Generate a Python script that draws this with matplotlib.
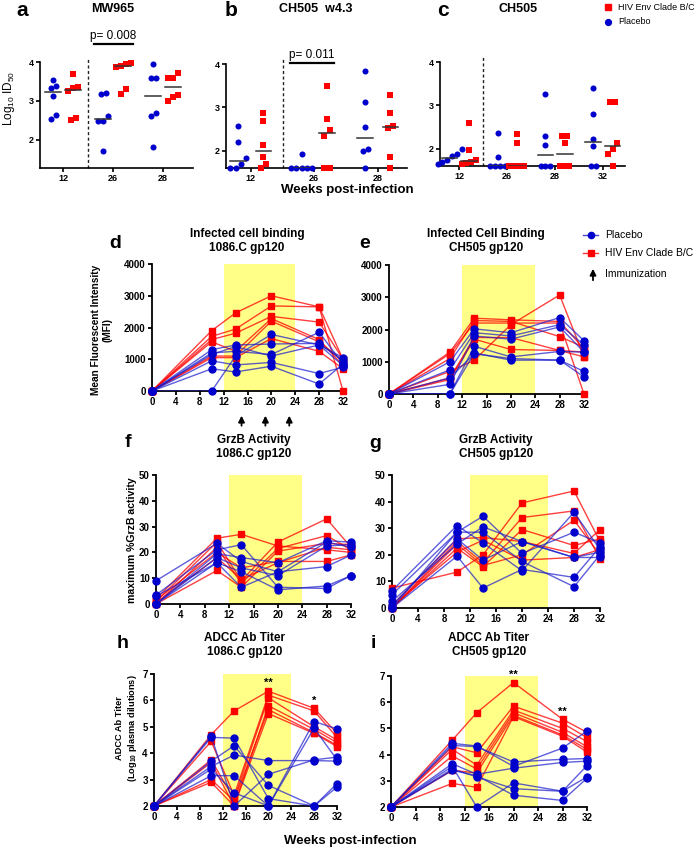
import numpy as np
import matplotlib
matplotlib.use('Agg')
import matplotlib.pyplot as plt
from matplotlib.lines import Line2D
from matplotlib.patches import FancyArrowPatch

plt.rcParams['font.family'] = ['Liberation Sans', 'DejaVu Sans']
plt.rcParams['mathtext.fontset'] = 'custom'
plt.rcParams['mathtext.rm'] = 'Liberation Sans'
plt.rcParams['mathtext.it'] = 'Liberation Sans:italic'
plt.rcParams['mathtext.bf'] = 'Liberation Sans:bold'

RED = '#FF0000'
BLUE = '#0000CC'
YEL = '#FFFF88'

# ---------------- top row: neutralization (Log10 ID50) ----------------
a_weeks = ['12', '26', '28']
a_placebo = [[3.38, 3.55, 3.32, 3.12, 2.63, 2.53],
             [3.17, 3.21, 2.61, 2.49, 2.49, 1.71],
             [3.94, 3.58, 3.58, 2.68, 2.62, 1.82]]
a_env = [[3.69, 3.36, 3.32, 3.26, 2.57, 2.50],
         [3.94, 3.91, 3.97, 3.87, 3.30, 3.19],
         [3.72, 3.60, 3.58, 3.16, 3.10, 2.99]]

b_weeks = ['12', '26', '28']
b_placebo = [[2.58, 2.20, 1.82, 1.69, 1.60, 1.60],
             [1.92, 1.60, 1.60, 1.60, 1.60, 1.60],
             [3.83, 3.12, 2.54, 2.04, 2.00, 1.60]]
b_env = [[2.87, 2.68, 2.12, 1.85, 1.70, 1.60],
         [3.49, 2.74, 2.48, 2.35, 1.60, 1.60],
         [3.29, 2.88, 2.58, 2.52, 1.85, 1.60]]

c_weeks = ['12', '26', '28', '32']
c_placebo = [[2.00, 1.87, 1.83, 1.75, 1.70, 1.65],
             [2.37, 1.80, 1.60, 1.60, 1.60, 1.60],
             [3.27, 2.30, 2.09, 1.60, 1.60, 1.60],
             [3.39, 2.81, 2.23, 2.07, 1.60, 1.60]]
c_env = [[2.60, 1.98, 1.73, 1.69, 1.67, 1.65],
         [2.33, 2.13, 1.60, 1.60, 1.60, 1.60],
         [2.30, 2.30, 2.14, 1.60, 1.60, 1.60],
         [3.07, 3.08, 2.12, 2.00, 1.88, 1.60]]

a_pvalue = 'p= 0.008'
b_pvalue = 'p= 0.011'

# ---------------- line panels ----------------
weeks = [0, 10, 14, 20, 28, 32]
immunization_weeks = [15, 19, 23]

d_env = [[0, 1900, 2460, 3000, 2650, 1000],
         [0, 1720, 1950, 2680, 2650, 0],
         [0, 1620, 1820, 2350, 2170, 1000],
         [0, 1550, 1250, 2280, 1620, 800],
         [0, 1100, 1100, 2200, 1550, 950],
         [0, 1050, 1050, 1650, 1250, 700]]
d_placebo = [[0, 0, 1100, 1780, 1450, 1050],
             [0, 1300, 1450, 1480, 1500, 950],
             [0, 1200, 1250, 1150, 1850, 850],
             [0, 1150, 1400, 1100, 1450, 800],
             [0, 950, 820, 900, 550, 750],
             [0, 700, 600, 780, 220, 850]]

e_env = [[0, 700, 1050, 2150, 3070, 1150],
         [0, 1300, 2350, 2300, 2250, 1400],
         [0, 1100, 2280, 2250, 1780, 1450],
         [0, 1250, 2200, 2200, 2200, 0],
         [0, 500, 1750, 1750, 1350, 1300],
         [0, 450, 1700, 1380, 1350, 1150]]
e_placebo = [[0, 1000, 2020, 1900, 2370, 1650],
             [0, 750, 1900, 1800, 2150, 1520],
             [0, 300, 1800, 1700, 2080, 1300],
             [0, 0, 1480, 1150, 1320, 1300],
             [0, 0, 1270, 1050, 1050, 700],
             [0, 500, 1250, 1100, 1050, 530]]

f_env = [[2, 25.5, 27, 22.5, 21, 20],
         [1, 24, 9, 24, 33, 22],
         [0, 22, 8, 21.5, 26.5, 21],
         [0, 13, 6.5, 20.5, 23.5, 23],
         [1.5, 20, 14, 16.5, 16.5, 19],
         [0.5, 18, 9.5, 16, 22, 21]]
f_placebo = [[9, 23.5, 16.5, 12.5, 14.5, 19],
             [3.5, 21, 23, 6.5, 6, 11],
             [0, 19.5, 18, 16, 24.5, 24],
             [0, 18, 14, 11, 22.5, 23],
             [3, 16, 12.5, 5.5, 7, 11],
             [0, 16, 6.5, 12.5, 24, 22]]

g_env = [[7.5, 13.5, 20, 39.5, 44, 25],
         [1, 26, 26.5, 25, 20.5, 29.5],
         [0, 25, 17, 34, 36.5, 18.5],
         [0, 22.5, 15.5, 29.5, 23.5, 26],
         [0.5, 21, 25.5, 18, 19, 22],
         [0, 24, 16, 20, 33, 20]]
g_placebo = [[6.5, 31, 24.5, 14, 36, 22],
             [5, 28.5, 34.5, 20.5, 28.5, 24.5],
             [2.5, 24, 30.5, 25, 19, 21],
             [0, 19.5, 7.5, 14.5, 11.5, 23],
             [0, 28.5, 28.5, 17.5, 8, 20],
             [1, 26, 18, 25, 19, 19]]

h_env = [[2, 4.7, 5.6, 6.35, 5.7, 4.75],
         [2, 4.45, 2.4, 6.2, 5.6, 4.6],
         [2, 3.75, 2.25, 6.1, 5.0, 4.5],
         [2, 3.65, 2.0, 5.8, 4.9, 4.4],
         [2, 3.0, 2.2, 5.65, 4.78, 4.3],
         [2, 2.9, 2.0, 5.5, 4.75, 4.25]]
h_placebo = [[2, 4.65, 2.0, 3.2, 3.75, 3.85],
             [2, 4.6, 4.57, 2.28, 2.0, 2.85],
             [2, 3.7, 4.28, 2.78, 2.0, 2.72],
             [2, 3.5, 3.93, 3.72, 3.72, 3.7],
             [2, 3.15, 3.15, 2.0, 5.2, 4.92],
             [2, 3.4, 2.5, 2.0, 4.95, 3.75]]
h_sig = {20: '**', 28: '*'}

i_env = [[2, 4.55, 5.6, 6.75, 5.35, 4.85],
         [2, 4.3, 4.07, 5.85, 5.2, 4.65],
         [2, 4.2, 3.6, 5.7, 5.0, 4.5],
         [2, 3.95, 3.45, 5.6, 4.85, 4.3],
         [2, 3.4, 3.3, 5.5, 4.75, 4.2],
         [2, 2.9, 2.75, 5.45, 4.7, 4.1]]
i_placebo = [[2, 4.43, 4.33, 3.55, 4.25, 4.9],
             [2, 4.35, 4.3, 3.72, 3.82, 3.85],
             [2, 3.65, 3.25, 3.48, 3.7, 3.75],
             [2, 3.55, 2.0, 2.92, 2.6, 3.15],
             [2, 3.45, 3.15, 2.7, 2.6, 3.58],
             [2, 3.4, 3.2, 2.45, 2.25, 3.1]]
i_sig = {20: '**', 28: '**'}

# ---------------- figure ----------------
W, H = 697, 849
fig = plt.figure(figsize=(W / 100, H / 100), dpi=100)
fig.patch.set_facecolor('white')


def ax_at(l, t, r, b):
    return fig.add_axes([l / W, 1 - b / H, (r - l) / W, (b - t) / H])


def ftext(x, y, s, **kw):
    fig.text(x / W, 1 - y / H, s, **kw)


def style(ax, lw=1.2, labelsize=7):
    for s in ['top', 'right']:
        ax.spines[s].set_visible(False)
    for s in ['left', 'bottom']:
        ax.spines[s].set_linewidth(lw)
    ax.tick_params(direction='out', length=3, width=lw, labelsize=labelsize, pad=1.5)
    for lab in ax.get_xticklabels() + ax.get_yticklabels():
        lab.set_fontweight('bold')
    ax.set_facecolor('none')


def swarm(vals, step, tol):
    v = np.asarray(vals, float)
    order = np.argsort(v, kind='stable')
    offs = np.zeros(len(v))
    groups, cur = [], [order[0]]
    for idx in order[1:]:
        if v[idx] - v[cur[-1]] < tol:
            cur.append(idx)
        else:
            groups.append(cur)
            cur = [idx]
    groups.append(cur)
    for g in groups:
        k = len(g)
        for j, idx in enumerate(g):
            offs[idx] = (j - (k - 1) / 2) * step
    return offs


def dot_panel(ax, cats, plac, env, ylim, xlim, step, tol, hw):
    pos = np.arange(len(cats))
    for i in pos:
        for vals, dx, color, marker in [(plac[i], -0.2, BLUE, 'o'), (env[i], 0.2, RED, 's')]:
            offs = swarm(vals, step, tol)
            ax.scatter(i + dx + offs, vals, s=19, c=color, marker=marker,
                       clip_on=False, zorder=3, linewidths=0)
            m = np.median(vals)
            ax.plot([i + dx - hw, i + dx + hw], [m, m], color='#333333', lw=1.1, zorder=4)
    ax.axvline(0.5, ymin=0, ymax=1.05, color='#222222', ls=(0, (2.2, 1.8)), lw=1.0, clip_on=False)
    ax.set_xlim(*xlim)
    ax.set_ylim(*ylim)
    ax.set_xticks(pos)
    ax.set_xticklabels(cats)
    ax.set_yticks([2, 3, 4])
    style(ax, lw=1.2, labelsize=6.5)


ax_a = ax_at(40, 62, 193, 168)
dot_panel(ax_a, a_weeks, a_placebo, a_env, (1.28, 4.0), (-0.46, 2.6), 0.1, 0.15, 0.16)
ax_b = ax_at(226, 64, 407, 168)
dot_panel(ax_b, b_weeks, b_placebo, b_env, (1.6, 4.0), (-0.39, 2.46), 0.08, 0.14, 0.125)
ax_c = ax_at(440, 62, 625, 166)
dot_panel(ax_c, c_weeks, c_placebo, c_env, (1.6, 4.0), (-0.4, 3.46), 0.1, 0.14, 0.165)

# p-value bars
ax_a.plot([0.62, 1.4], [4.46, 4.46], color='k', lw=1.6, clip_on=False)
ax_a.text(1.01, 4.52, a_pvalue, ha='center', va='bottom', fontsize=8.5, clip_on=False)
ax_b.plot([0.61, 1.31], [4.02, 4.02], color='k', lw=1.6, clip_on=False)
ax_b.text(0.96, 4.08, b_pvalue, ha='center', va='bottom', fontsize=8.5, clip_on=False)

# top row titles / letters / labels
ftext(113, 9, 'MW965', ha='center', va='center', fontsize=9, fontweight='bold')
ftext(316, 9, 'CH505  w4.3', ha='center', va='center', fontsize=9, fontweight='bold')
ftext(518, 9, 'CH505', ha='center', va='center', fontsize=9, fontweight='bold')
ftext(22, 10, 'a', ha='center', va='center', fontsize=15, fontweight='bold')
ftext(231, 10, 'b', ha='center', va='center', fontsize=15, fontweight='bold')
ftext(443, 10, 'c', ha='center', va='center', fontsize=15, fontweight='bold')
ftext(9, 98, r'Log$_{10}$ ID$_{50}$', ha='center', va='center', rotation=90, fontsize=8.5)
ftext(347, 190, 'Weeks post-infection', ha='center', va='center', fontsize=9.5, fontweight='bold')

# top legend (markers only)
fig.add_artist(Line2D([608 / W], [1 - 7 / H], marker='s', color=RED, ms=4.2, ls='none'))
ftext(618, 7, 'HIV Env Clade B/C', ha='left', va='center', fontsize=6.5)
fig.add_artist(Line2D([608 / W], [1 - 22 / H], marker='o', color=BLUE, ms=4.2, ls='none'))
ftext(618, 22, 'Placebo', ha='left', va='center', fontsize=6.5)


def line_panel(ax, env, plac, ylim, yticks):
    ax.axvspan(12, 24, color=YEL, zorder=0, lw=0)
    for s in env:
        ax.plot(weeks, s, color=RED, lw=1.0, alpha=0.75, zorder=2)
    for s in env:
        ax.plot(weeks, s, ls='none', marker='s', ms=4.6, color=RED, mec=RED, clip_on=False, zorder=3)
    for s in plac:
        ax.plot(weeks, s, color='#1a1acc', lw=1.0, alpha=0.7, zorder=4)
    for s in plac:
        ax.plot(weeks, s, ls='none', marker='o', ms=5.0, color=BLUE, mec=BLUE, clip_on=False, zorder=5)
    ax.set_xlim(0, 32)
    ax.set_ylim(*ylim)
    ax.set_xticks(np.arange(0, 33, 4))
    ax.set_yticks(yticks)
    style(ax, lw=1.3, labelsize=7)


ax_d = ax_at(152, 264, 343, 391)
line_panel(ax_d, d_env, d_placebo, (0, 4000), [0, 1000, 2000, 3000, 4000])
ax_e = ax_at(389, 265, 584, 394)
line_panel(ax_e, e_env, e_placebo, (0, 4000), [0, 1000, 2000, 3000, 4000])
ax_f = ax_at(156, 475, 351, 604)
line_panel(ax_f, f_env, f_placebo, (0, 50), [0, 10, 20, 30, 40, 50])
ax_g = ax_at(392, 475, 600, 608)
line_panel(ax_g, g_env, g_placebo, (0, 50), [0, 10, 20, 30, 40, 50])
ax_h = ax_at(154, 674, 337, 806)
line_panel(ax_h, h_env, h_placebo, (2, 7), [2, 3, 4, 5, 6, 7])
ax_i = ax_at(391, 676, 587, 807)
line_panel(ax_i, i_env, i_placebo, (2, 7), [2, 3, 4, 5, 6, 7])

# significance stars
for ax, sig, env in [(ax_h, h_sig, h_env), (ax_i, i_sig, i_env)]:
    for wk, s in sig.items():
        k = weeks.index(wk)
        top = max(row[k] for row in env)
        ax.text(wk, top + 0.3, s, ha='center', va='center', fontsize=8, fontweight='bold', clip_on=False)

# immunization arrows under d
for wk in immunization_weeks:
    ax_d.annotate('', xy=(wk, -690), xytext=(wk, -1180), xycoords='data',
                  arrowprops=dict(arrowstyle='-|>', color='k', lw=1.3, mutation_scale=9),
                  annotation_clip=False)

# titles
title_kw = dict(ha='center', va='center', fontsize=8.5, fontweight='bold', linespacing=1.15)
ftext(247, 241, 'Infected cell binding\n1086.C gp120', **title_kw)
ftext(486, 241, 'Infected Cell Binding\nCH505 gp120', **title_kw)
ftext(254, 447, 'GrzB Activity\n1086.C gp120', **title_kw)
ftext(496, 447, 'GrzB Activity\nCH505 gp120', **title_kw)
ftext(245, 645, 'ADCC Ab Titer\n1086.C gp120', **title_kw)
ftext(489, 645, 'ADCC Ab Titer\nCH505 gp120', **title_kw)

letter_kw = dict(ha='center', va='center', fontsize=14, fontweight='bold')
ftext(115, 243, 'd', **letter_kw)
ftext(365, 243, 'e', **letter_kw)
ftext(128, 442, 'f', **letter_kw)
ftext(375, 443, 'g', **letter_kw)
ftext(123, 643, 'h', **letter_kw)
ftext(373, 643, 'i', **letter_kw)

# y labels
ftext(102, 330, 'Mean Fluorescent Intensity\n(MFI)', ha='center', va='center', rotation=90,
      fontsize=7.3, fontweight='bold', linespacing=1.2)
ftext(132, 540, 'maximum %GrzB activity', ha='center', va='center', rotation=90,
      fontsize=7.6, fontweight='bold')
ftext(127, 728, 'ADCC Ab Titer\n(Log$_{\\mathbf{10}}$ plasma dilutions)', ha='center', va='center',
      rotation=90, fontsize=6.7, fontweight='bold', linespacing=1.2)
ftext(350, 841, 'Weeks post-infection', ha='center', va='center', fontsize=9.5, fontweight='bold')

# legend for line panels
fig.add_artist(Line2D([583 / W, 598 / W], [1 - 235 / H] * 2, color='#1a1acc', lw=1.0, alpha=0.8))
fig.add_artist(Line2D([590.5 / W], [1 - 235 / H], marker='o', color=BLUE, ms=4.5, ls='none'))
ftext(605, 235, 'Placebo', ha='left', va='center', fontsize=7.5)
fig.add_artist(Line2D([583 / W, 598 / W], [1 - 253 / H] * 2, color=RED, lw=1.0, alpha=0.8))
fig.add_artist(Line2D([590.5 / W], [1 - 253 / H], marker='s', color=RED, ms=4.3, ls='none'))
ftext(605, 253, 'HIV Env Clade B/C', ha='left', va='center', fontsize=7.5)
fig.add_artist(FancyArrowPatch((593 / W, 1 - 283 / H), (593 / W, 1 - 266 / H),
                               transform=fig.transFigure, arrowstyle='-|>',
                               mutation_scale=9, color='k', lw=1.3))
ftext(605, 274, 'Immunization', ha='left', va='center', fontsize=7.5)

fig.savefig('out.png', dpi=100)
